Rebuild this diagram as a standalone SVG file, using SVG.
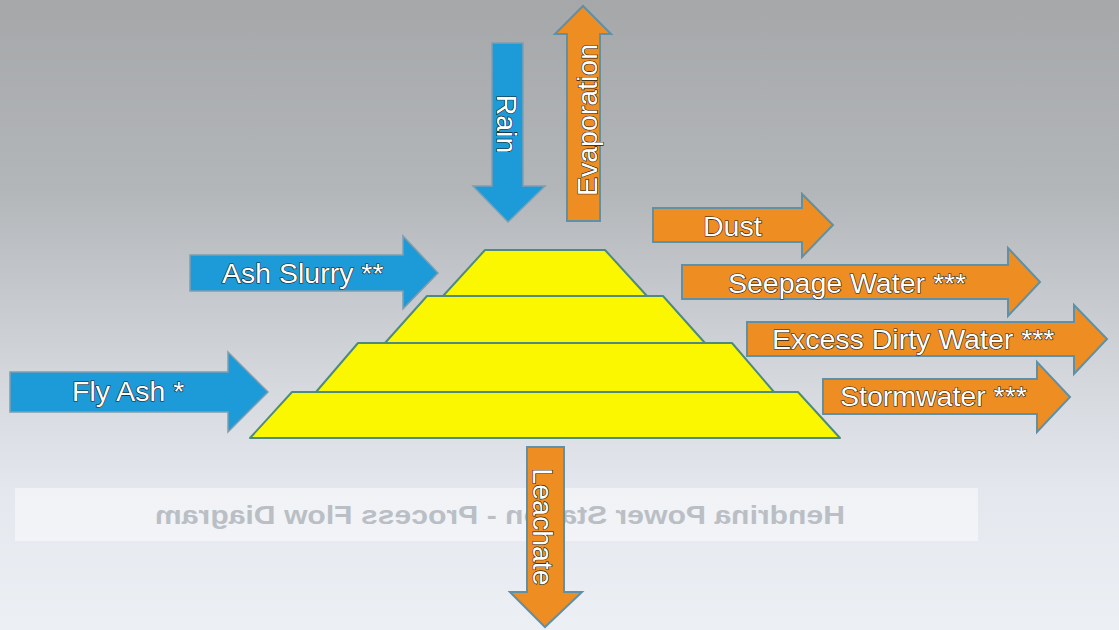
<svg xmlns="http://www.w3.org/2000/svg" width="1119" height="630" viewBox="0 0 1119 630">
  <defs>
    <linearGradient id="bg" x1="0" y1="0" x2="0" y2="1">
      <stop offset="0" stop-color="#a5a7a9"/>
      <stop offset="0.3" stop-color="#b3b6b9"/>
      <stop offset="0.62" stop-color="#d6dadf"/>
      <stop offset="0.78" stop-color="#e4e8ee"/>
      <stop offset="1" stop-color="#eceff4"/>
    </linearGradient>
  </defs>
  <style>
    .blue { fill: #1d9ad8; stroke: #7f9eb0; stroke-width: 1.5; }
    .orange { fill: #ee8d22; stroke: #5f90a6; stroke-width: 2; }
    .layer { fill: #fbf700; stroke: #4f8a7e; stroke-width: 2; stroke-linejoin: round; }
    .lbl { font-family: "Liberation Sans", Arial, sans-serif; font-size: 28.5px; fill: #ffffff; stroke: #1b1b1b; stroke-width: 1.2px; paint-order: stroke; }
    .ghost { font-family: "Liberation Sans", Arial, sans-serif; font-size: 25px; font-weight: bold; fill: #969da6; opacity: 0.6; }
  </style>
  <rect x="0" y="0" width="1119" height="630" fill="url(#bg)"/>
  <g id="ghost-caption">
    <rect x="15" y="488" width="963" height="53" fill="#ffffff" opacity="0.45"/>
    <text class="ghost" x="155" y="524" textLength="690" lengthAdjust="spacingAndGlyphs" transform="matrix(-1 0 0 1 1000 0)">Hendrina Power Station - Process Flow Diagram</text>
  </g>
  <g id="ash-dam">
    <polygon class="layer" points="292,392 798,392 840,438 250,438"/>
    <polygon class="layer" points="358,343 732,343 774,392 316,392"/>
    <polygon class="layer" points="427,296 663,296 705,343 385,343"/>
    <polygon class="layer" points="485,250 605,250 647,296 443,296"/>
  </g>
  <g id="connectors">
    <g id="rain">
      <polygon class="blue" points="492,43 523,43 523,186 545,186 508,222 473,186 492,186"/>
      <text class="lbl" text-anchor="middle" transform="translate(497,124) rotate(90)">Rain</text>
    </g>
    <g id="evaporation">
      <polygon class="orange" points="567,221 600,221 600,34 611,34 583,6 555,34 567,34"/>
      <text class="lbl" text-anchor="middle" transform="translate(597,120) rotate(-90)">Evaporation</text>
    </g>
    <g id="leachate">
      <polygon class="orange" points="527,447 564,447 564,592 582,592 545,627 510,592 527,592"/>
      <text class="lbl" text-anchor="middle" transform="translate(533,527) rotate(90)">Leachate</text>
    </g>
    <g id="ash-slurry">
      <polygon class="blue" points="190,255 403,255 403,236 438,273 403,309 403,291 190,291"/>
      <text class="lbl" x="222" y="283">Ash Slurry **</text>
    </g>
    <g id="fly-ash">
      <polygon class="blue" points="10,372 228,372 228,352 268,392 228,432 228,412 10,412"/>
      <text class="lbl" x="72" y="401">Fly Ash *</text>
    </g>
    <g id="dust">
      <polygon class="orange" points="653,208 802,208 802,194 833,225 802,257 802,242 653,242"/>
      <text class="lbl" x="703" y="236">Dust</text>
    </g>
    <g id="seepage-water">
      <polygon class="orange" points="682,265 1008,265 1008,248 1040,282 1008,316 1008,299 682,299"/>
      <text class="lbl" x="728" y="293">Seepage Water ***</text>
    </g>
    <g id="excess-dirty-water">
      <polygon class="orange" points="747,322 1074,322 1074,305 1107,339 1074,374 1074,356 747,356"/>
      <text class="lbl" x="772" y="349">Excess Dirty Water ***</text>
    </g>
    <g id="stormwater">
      <polygon class="orange" points="823,379 1037,379 1037,362 1070,397 1037,432 1037,414 823,414"/>
      <text class="lbl" x="840" y="406">Stormwater ***</text>
    </g>
  </g>
</svg>
